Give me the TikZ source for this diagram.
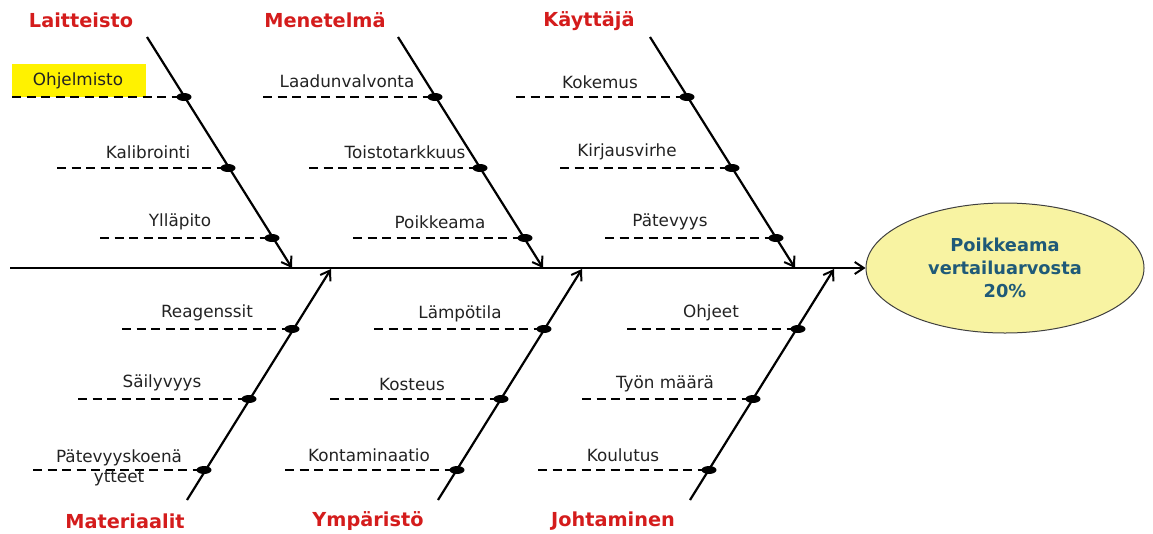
\documentclass[tikz,border=0pt]{standalone}
\usepackage{fontspec}
\setmainfont{DejaVu Sans}
\usetikzlibrary{arrows.meta,shapes.geometric}
\definecolor{titlered}{HTML}{D41C1C}
\definecolor{effblue}{HTML}{1F5A78}
\definecolor{effyellow}{HTML}{F8F3A2}
\definecolor{labgray}{HTML}{222222}
\tikzset{
  bone/.style={line width=2.2pt,-{Straight Barb[length=9pt,width=12pt,line width=2pt]}},
  tail/.style={line width=2.2pt,dashed,dash pattern=on 9pt off 5.5pt},
  knot/.style={ellipse,fill=black,inner sep=0pt,minimum width=15pt,minimum height=8pt},
  lab/.style={font=\fontsize{16.8}{19}\selectfont,text=labgray,inner sep=0pt},
  cat/.style={font=\fontsize{19.3}{22}\selectfont\bfseries,text=titlered,inner sep=0pt},
}
\begin{document}
\begin{tikzpicture}[x=1pt,y=-1pt]
\useasboundingbox (0,0) rectangle (1153,533);
% effect
\node[ellipse,draw=black!75,line width=1pt,fill=effyellow,minimum width=278pt,minimum height=130pt,
  align=center,text=effblue,font=\fontsize{17.8}{23}\selectfont\bfseries] (eff) at (1005,268)
  {Poikkeama\\vertailuarvosta\\20\%};
% spine
\coordinate (sp) at (10,268);
\draw[line width=2.2pt,-{Straight Barb[length=9pt,width=12pt,line width=2pt]}] (sp) -- (eff.west);

% ---- upper bones
\coordinate (l0) at (147,37); \coordinate (l1) at (292,268);
\coordinate (m0) at (398,37); \coordinate (m1) at (543,268);
\coordinate (k0) at (650,37); \coordinate (k1) at (795,268);
\draw[bone] (l0) -- (l1);
\draw[bone] (m0) -- (m1);
\draw[bone] (k0) -- (k1);
% ---- lower bones
\coordinate (ma0) at (187,500); \coordinate (ma1) at (331,269);
\coordinate (y0) at (438,500); \coordinate (y1) at (582,269);
\coordinate (j0) at (690,500); \coordinate (j1) at (834,269);
\draw[bone] (ma0) -- (ma1);
\draw[bone] (y0) -- (y1);
\draw[bone] (j0) -- (j1);

% categories
\node[cat] (tL) at (81,20) {Laitteisto};
\node[cat] (tM) at (325,20) {Menetelmä};
\node[cat] (tK) at (589,21) {Käyttäjä};
\node[cat] (tMa) at (125,521) {Materiaalit};
\node[cat] (tY) at (368,521) {Ympäristö};
\node[cat] (tJ) at (613,521) {Johtaminen};

% highlight box
\node[fill=yellow,minimum width=134pt,minimum height=33pt,inner sep=0pt] (hb) at (79,80.5) {};

% upper tails
\coordinate (a1) at (12,97);  \node[knot] (d1) at (184,97) {};
\coordinate (a2) at (57,168); \node[knot] (d2) at (228,168) {};
\coordinate (a3) at (100,238);\node[knot] (d3) at (272,238) {};
\coordinate (b1) at (263,97); \node[knot] (e1) at (435,97) {};
\coordinate (b2) at (309,168);\node[knot] (e2) at (480,168) {};
\coordinate (b3) at (353,238);\node[knot] (e3) at (525,238) {};
\coordinate (c1) at (516,97); \node[knot] (f1) at (687,97) {};
\coordinate (c2) at (560,168);\node[knot] (f2) at (732,168) {};
\coordinate (c3) at (605,238);\node[knot] (f3) at (776,238) {};
% lower tails
\coordinate (g1) at (122,329);\node[knot] (h1) at (292,329) {};
\coordinate (g2) at (78,399); \node[knot] (h2) at (249,399) {};
\coordinate (g3) at (33,470); \node[knot] (h3) at (204,470) {};
\coordinate (p1) at (374,329);\node[knot] (q1) at (544,329) {};
\coordinate (p2) at (330,399);\node[knot] (q2) at (501,399) {};
\coordinate (p3) at (285,470);\node[knot] (q3) at (457,470) {};
\coordinate (r1) at (627,329);\node[knot] (s1) at (798,329) {};
\coordinate (r2) at (582,399);\node[knot] (s2) at (753,399) {};
\coordinate (r3) at (538,470);\node[knot] (s3) at (709,470) {};

\foreach \a/\b in {a1/d1,a2/d2,a3/d3,b1/e1,b2/e2,b3/e3,c1/f1,c2/f2,c3/f3,
                   g1/h1,g2/h2,g3/h3,p1/q1,p2/q2,p3/q3,r1/s1,r2/s2,r3/s3}
  \draw[tail] (\a) -- (\b.center);

% labels
\node[lab] (n1) at (78,81) {Ohjelmisto};
\node[lab] (n2) at (148,152) {Kalibrointi};
\node[lab] (n3) at (180,222) {Ylläpito};
\node[lab] (n4) at (347,81) {Laadunvalvonta};
\node[lab] (n5) at (405,152) {Toistotarkkuus};
\node[lab] (n6) at (440,222) {Poikkeama};
\node[lab] (n7) at (600,82) {Kokemus};
\node[lab] (n8) at (627,152) {Kirjausvirhe};
\node[lab] (n9) at (670,222) {Pätevyys};
\node[lab] (o1) at (207,313) {Reagenssit};
\node[lab] (o2) at (162,383) {Säilyvyys};
\node[lab,align=center,font=\fontsize{16.8}{20}\selectfont] (o3) at (119,468) {Pätevyyskoenä\\ytteet};
\node[lab] (o4) at (460,314) {Lämpötila};
\node[lab] (o5) at (412,384) {Kosteus};
\node[lab] (o6) at (369,455) {Kontaminaatio};
\node[lab] (o7) at (711,313) {Ohjeet};
\node[lab] (o8) at (665,384) {Työn määrä};
\node[lab] (o9) at (623,455) {Koulutus};
\end{tikzpicture}
\end{document}
